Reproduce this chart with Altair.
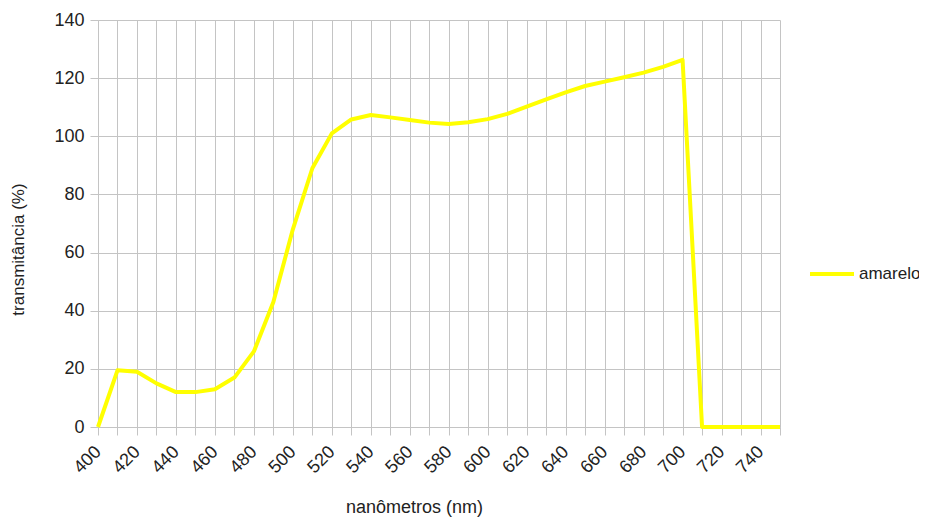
import altair as alt
import pandas as pd

wavelength = list(range(400, 760, 10))
transmittance = [0, 19.5, 19, 15, 12, 12, 13, 17, 26, 43,
                 68, 89, 101, 105.8, 107.3, 106.5, 105.6, 104.7, 104.2, 104.8,
                 105.9, 107.7, 110.2, 112.7, 115.1, 117.3, 118.8, 120.3, 121.9, 123.9,
                 126.3, 0, 0, 0, 0, 0]
series = ["amarelo"] * len(wavelength)

df = pd.DataFrame({"nm": wavelength, "t": transmittance, "serie": series})

x_ticks = list(range(400, 760, 10))
y_ticks = list(range(0, 160, 20))

FONT = "Liberation Sans"
GRID = "#c4c4c4"
TEXT = "#222222"

chart = alt.Chart(df).mark_line(strokeWidth=4, strokeJoin="round").encode(
    x=alt.X("nm:Q",
            scale=alt.Scale(domain=[400, 750], nice=False, zero=False),
            axis=alt.Axis(values=x_ticks,
                          labelExpr="datum.value % 20 == 0 ? datum.label : ''",
                          labelAngle=-45, labelAlign="right", labelBaseline="middle",
                          labelPadding=14,
                          title="nanômetros (nm)", titleX=316, titleY=80,
                          titleFontSize=18,
                          titleBaseline="middle", titleAlign="center")),
    y=alt.Y("t:Q",
            scale=alt.Scale(domain=[0, 140], nice=False),
            axis=alt.Axis(values=y_ticks, title="transmitância (%)",
                          labelPadding=6, titleFontSize=17,
                          titleX=-80, titleY=229, titleAngle=-90,
                          titleBaseline="middle", titleAlign="center")),
    color=alt.Color("serie:N",
                    scale=alt.Scale(domain=["amarelo"], range=["#ffff00"]),
                    legend=alt.Legend(title=None, orient="none", legendX=710, legendY=230,
                                      symbolType="stroke", symbolSize=1936,
                                      symbolStrokeWidth=4, labelFontSize=17,
                                      labelFont=FONT, labelColor=TEXT,
                                      labelOffset=3)),
).properties(
    width=682, height=407,
    autosize=alt.AutoSizeParams(type="none"),
    padding={"left": 90, "top": 12, "right": 139, "bottom": 90},
).configure_axis(
    gridColor=GRID, gridWidth=1, domainColor=GRID, tickColor=GRID,
    tickSize=8, labelFont=FONT, titleFont=FONT, labelFontSize=18,
    labelColor=TEXT, titleColor=TEXT, titleFontWeight="normal",
).configure_view(stroke=None)

chart.save("out.html", embed_options={"renderer": "svg", "actions": False})
